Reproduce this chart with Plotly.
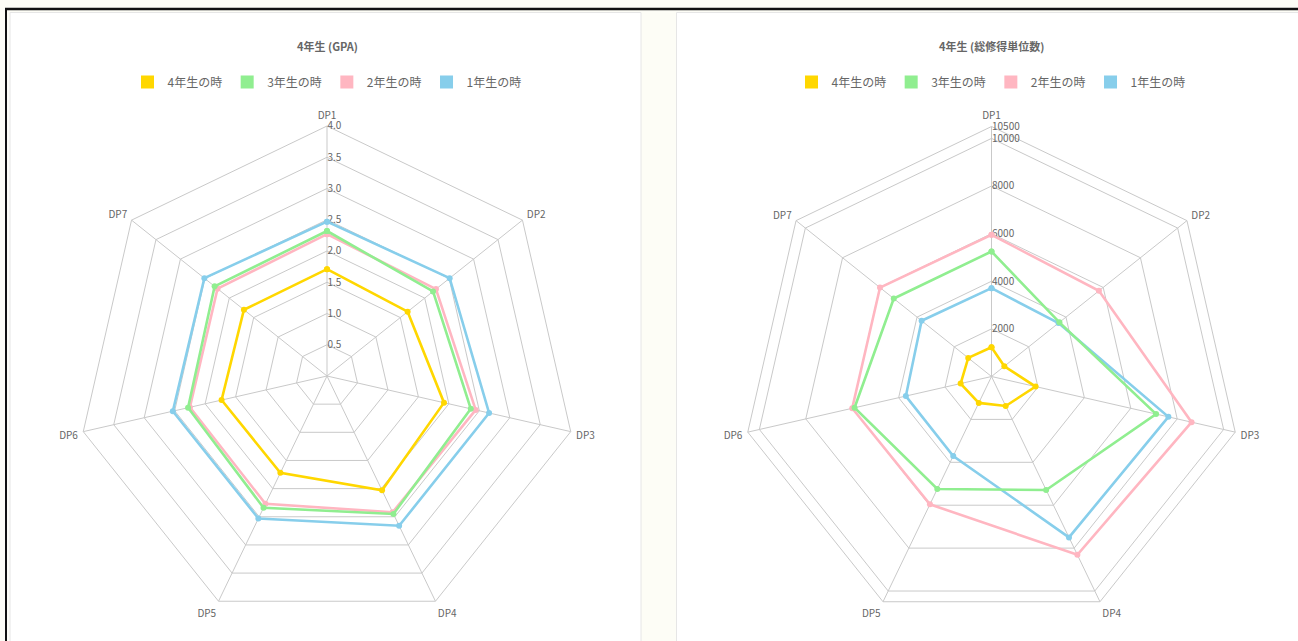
import plotly.graph_objects as go

# ---------------- data ----------------
axes_labels = ["DP1", "DP2", "DP3", "DP4", "DP5", "DP6", "DP7"]
series_names = ["4年生の時", "3年生の時", "2年生の時", "1年生の時"]
series_colors = ["#FFD700", "#90EE90", "#FFB6C1", "#87CEEB"]

gpa_y4 = [1.71, 1.65, 1.92, 2.03, 1.72, 1.73, 1.70]
gpa_y3 = [2.32, 2.17, 2.36, 2.45, 2.34, 2.28, 2.30]
gpa_y2 = [2.27, 2.23, 2.44, 2.42, 2.27, 2.25, 2.24]
gpa_y1 = [2.47, 2.51, 2.66, 2.66, 2.53, 2.53, 2.51]

cred_y4 = [1230, 690, 1900, 1375, 1230, 1330, 1250]
cred_y3 = [5250, 3650, 7090, 5290, 5245, 5900, 5250]
cred_y2 = [5950, 5770, 8620, 8310, 5960, 6000, 5990]
cred_y1 = [3710, 3600, 7620, 7500, 3705, 3690, 3755]

gpa_ticks = [0.5, 1.0, 1.5, 2.0, 2.5, 3.0, 3.5, 4.0]
cred_ticks = [2000, 4000, 6000, 8000, 10000, 10500]

titles = ["4年生 (GPA)", "4年生 (総修得単位数)"]

# ---------------- layout constants ----------------
W, H = 1298, 641
FONT = "Noto Sans CJK JP, Liberation Sans, Arial, sans-serif"
TXT = "#666666"
GRID = "#c9c9c9"


def px_x(x):
    return x / W


def px_y(y):
    return 1 - y / H


fig = go.Figure()

panels = [
    ("polar", "legend", [gpa_y4, gpa_y3, gpa_y2, gpa_y1]),
    ("polar2", "legend2", [cred_y4, cred_y3, cred_y2, cred_y1]),
]

for subplot, legend, series in panels:
    # draw order: blue, pink, green, yellow (yellow on top)
    for idx in [3, 2, 1, 0]:
        vals = series[idx]
        fig.add_trace(go.Scatterpolar(
            r=vals + vals[:1],
            theta=axes_labels + axes_labels[:1],
            mode="lines+markers",
            line=dict(color=series_colors[idx], width=2.6),
            marker=dict(color=series_colors[idx], size=6),
            name=series_names[idx],
            subplot=subplot,
            showlegend=False,
            hoverinfo="skip",
        ))
    # legend swatches (square boxes)
    for idx in range(4):
        fig.add_trace(go.Scatterpolar(
            r=[None], theta=[None],
            mode="markers",
            marker=dict(color=series_colors[idx], size=13, symbol="square"),
            name=series_names[idx],
            subplot=subplot,
            legend=legend,
            legendrank=idx + 1,
            showlegend=True,
        ))


def polar_cfg(cx, cy, rad, rmax, ticks, fmt):
    return dict(
        domain=dict(x=[px_x(cx - rad), px_x(cx + rad)],
                    y=[px_y(cy + rad), px_y(cy - rad)]),
        gridshape="linear",
        bgcolor="rgba(0,0,0,0)",
        radialaxis=dict(
            range=[0, rmax],
            angle=90,
            tickangle=90,
            tickvals=ticks,
            tickformat=fmt,
            showline=False,
            ticks="",
            gridcolor=GRID,
            gridwidth=1,
            tickfont=dict(family=FONT, size=10, color=TXT),
            layer="below traces",
        ),
        angularaxis=dict(
            type="category",
            categoryarray=axes_labels,
            direction="clockwise",
            rotation=90,
            showline=True,
            linecolor=GRID,
            linewidth=1,
            gridcolor=GRID,
            ticks="outside",
            ticklen=3,
            tickcolor="rgba(0,0,0,0)",
            tickfont=dict(family=FONT, size=10, color=TXT),
            layer="below traces",
        ),
    )


legend_common = dict(
    orientation="h",
    xanchor="center",
    yanchor="middle",
    y=px_y(82),
    font=dict(family=FONT, size=12, color=TXT),
    bgcolor="rgba(0,0,0,0)",
    itemwidth=30,
    traceorder="normal",
)

shapes = [
    # cards
    dict(type="rect", xref="paper", yref="paper",
         x0=px_x(10), x1=px_x(641), y0=px_y(660), y1=px_y(12.5),
         fillcolor="#ffffff", line=dict(color="#e6e6e6", width=1), layer="below"),
    dict(type="rect", xref="paper", yref="paper",
         x0=px_x(676.5), x1=px_x(1310), y0=px_y(660), y1=px_y(12.5),
         fillcolor="#ffffff", line=dict(color="#e6e6e6", width=1), layer="below"),
    # dark frame of the screenshot
    dict(type="line", xref="paper", yref="paper",
         x0=px_x(5), x1=1, y0=px_y(9), y1=px_y(9),
         line=dict(color="#111111", width=2.5)),
    dict(type="line", xref="paper", yref="paper",
         x0=px_x(6), x1=px_x(6), y0=0, y1=px_y(8),
         line=dict(color="#111111", width=2)),
]

annotations = [
    dict(text="<b>" + titles[0] + "</b>", x=px_x(327), y=px_y(46), xref="paper", yref="paper",
         showarrow=False, xanchor="center", yanchor="middle",
         font=dict(family=FONT, size=11, color=TXT)),
    dict(text="<b>" + titles[1] + "</b>", x=px_x(991), y=px_y(46), xref="paper", yref="paper",
         showarrow=False, xanchor="center", yanchor="middle",
         font=dict(family=FONT, size=11, color=TXT)),
]

fig.update_layout(
    width=W, height=H,
    margin=dict(l=0, r=0, t=0, b=0),
    paper_bgcolor="#fdfdf6",
    plot_bgcolor="#ffffff",
    font=dict(family=FONT, color=TXT),
    polar=polar_cfg(327, 376, 250, 4.0, gpa_ticks, ".1f"),
    polar2=polar_cfg(991.5, 376.5, 250, 10500, cred_ticks, "d"),
    legend=dict(legend_common, x=px_x(327)),
    legend2=dict(legend_common, x=px_x(991)),
    shapes=shapes,
    annotations=annotations,
)

fig.write_html(
    "out.html",
    config={"displayModeBar": False},
    post_script="document.body.style.margin='0';document.body.style.overflow='hidden';",
)
